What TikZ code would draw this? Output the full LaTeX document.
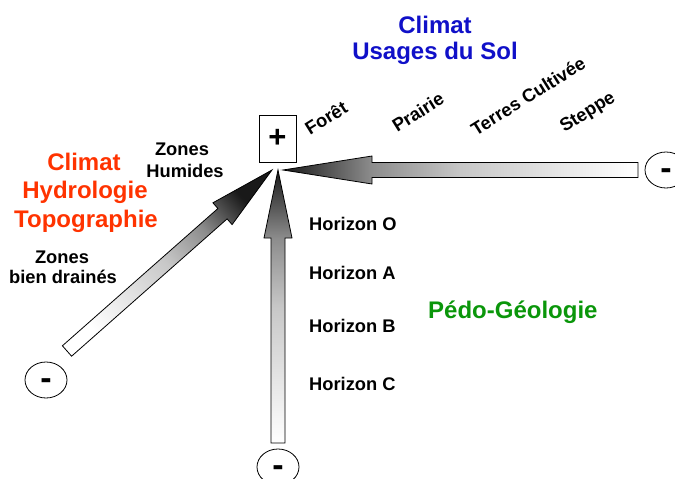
\documentclass[tikz,border=0pt]{standalone}
\usepackage{fontspec}
\setmainfont{Liberation Sans}
\usetikzlibrary{shapes.geometric}
\pgfdeclarehorizontalshading{arrowsh}{100bp}{color(0bp)=(white); color(25bp)=(white); color(50bp)=(black!22); color(62.5bp)=(black!45); color(75bp)=(black!90); color(100bp)=(black!90)}
\definecolor{tblue}{RGB}{16,16,200}
\definecolor{tred}{RGB}{255,51,0}
\definecolor{tgreen}{RGB}{10,150,10}
\begin{document}
\begin{tikzpicture}[x=1pt,y=-1pt,
  lbl/.style={font=\fontsize{18.3}{20}\selectfont\bfseries, inner sep=0pt, anchor=base},
  big/.style={font=\fontsize{24}{26}\selectfont\bfseries, inner sep=0pt, anchor=base},
  rlbl/.style={font=\fontsize{18.3}{20}\selectfont\bfseries, inner sep=0pt, rotate=32},
  blockarrow/.style={draw=black, line width=0.8pt, shading=arrowsh, line join=miter},
  minusnode/.style={ellipse, draw, line width=0.8pt, minimum width=42pt, minimum height=36pt, inner sep=0pt, text height=19pt, text depth=0pt, font=\fontsize{34}{34}\selectfont\bfseries}]
\useasboundingbox (0,0) rectangle (675,479);

% block arrows
\shadedraw[blockarrow, shading angle=180] (283,170) -- (372,156) -- (372,162.5) -- (638,162.5) -- (638,177.5) -- (372,177.5) -- (372,184) -- cycle;
\shadedraw[blockarrow, shading angle=90] (278,170) -- (292,238) -- (285,238) -- (285,443) -- (271,443) -- (271,238) -- (264,238) -- cycle;
\shadedraw[blockarrow, shading angle=41.4] (272,170) -- (232.1,224.6) -- (227.1,218.9) -- (71.6,356.2) -- (62.4,345.8) -- (217.9,208.5) -- (212.9,202.8) -- cycle;

% plus box
\node[draw, line width=0.8pt, minimum width=37pt, minimum height=47pt, inner sep=0pt, font=\fontsize{31}{31}\selectfont\bfseries] (plus) at (277.5,138.5) {+};

% minus ellipses
\node[minusnode] (mleft) at (46,380) {-};
\node[minusnode] (mbottom) at (278,467) {-};
\node[minusnode] (mright) at (666,170) {-};

% titles
\node[big, text=tblue] (t1) at (435,33) {Climat};
\node[big, text=tblue] (t2) at (435,59) {Usages du Sol};
\node[big, text=tred] (r1) at (84,170) {Climat};
\node[big, text=tred] (r2) at (85,198) {Hydrologie};
\node[big, text=tred] (r3) at (86,227) {Topographie};
\node[big, text=tgreen, anchor=base west] (pg) at (428,318) {Pédo-Géologie};

% labels
\node[lbl] (zh1) at (182,155) {Zones};
\node[lbl] (zh2) at (185,177) {Humides};
\node[lbl] (zd1) at (62,263) {Zones};
\node[lbl] (zd2) at (63,283) {bien drainés};
\node[lbl, anchor=base west] (ho) at (309,230) {Horizon O};
\node[lbl, anchor=base west] (ha) at (309,279) {Horizon A};
\node[lbl, anchor=base west] (hb) at (309,332) {Horizon B};
\node[lbl, anchor=base west] (hc) at (309,390) {Horizon C};

% rotated land use labels
\node[rlbl] (foret) at (326,118) {Forêt};
\node[rlbl] (prairie) at (418,112) {Prairie};
\node[rlbl] (terres) at (528,96) {Terres Cultivée};
\node[rlbl] (steppe) at (588,113) {Steppe};
\end{tikzpicture}
\end{document}
